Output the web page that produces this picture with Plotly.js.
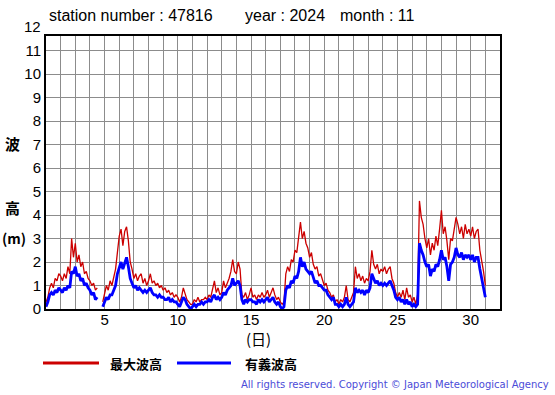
<!DOCTYPE html>
<html><head><meta charset="utf-8">
<script src="https://cdn.plot.ly/plotly-3.0.1.min.js"></script>
<style>html,body{margin:0;padding:0;background:#fff}#chart{width:555px;height:395px}</style>
</head><body><div id="chart"></div>
<script>
// Sampling: 8 readings per day (3-hourly), from day 1.0 to day 31.0
const samplesPerDay = 8;
const startDay = 1;

// 最大波高 (max wave height, m)
const maxWave = [
  0.3,0.5,0.9,1.1,0.9,1.3,1.2,1.5,
  1.4,1.2,1.5,1.3,1.8,1.5,3.0,2.2,
  2.8,2.0,2.3,1.8,2.0,1.5,1.6,1.3,
  1.2,1.0,1.1,0.8,0.9,null,null,0.3,
  0.6,1.0,0.8,1.2,1.0,1.3,1.7,2.4,
  3.1,3.4,2.7,3.3,3.5,2.9,2.0,1.7,
  1.3,1.5,1.2,1.4,1.5,1.1,1.3,1.0,
  1.2,1.5,1.1,1.2,1.0,1.1,0.9,1.0,
  0.8,0.9,0.7,0.8,0.6,0.7,0.5,0.6,
  0.5,0.3,0.5,0.9,0.6,0.4,0.3,0.2,
  0.2,0.4,0.3,0.5,0.3,0.4,0.4,0.5,
  0.4,0.6,0.5,0.8,1.2,0.7,0.9,0.6,
  0.7,1.2,0.9,1.1,1.3,1.6,2.1,1.6,
  1.5,2.0,1.7,0.6,0.5,0.7,0.4,0.6,
  0.9,0.5,0.6,0.4,0.6,0.5,0.7,0.5,
  0.6,0.8,0.5,0.7,0.9,0.6,0.4,0.5,
  0.3,0.2,0.3,1.5,1.8,1.6,2.1,2.0,
  2.5,2.4,3.0,3.7,3.0,3.3,2.8,2.6,
  2.2,2.4,1.9,1.7,1.8,1.4,1.5,1.2,
  1.0,1.1,0.8,0.7,0.5,0.6,0.3,0.4,
  0.2,0.4,0.3,0.5,1.0,0.4,0.3,0.5,
  0.7,1.8,1.3,1.5,1.2,1.4,1.1,1.3,
  1.2,1.6,2.5,1.9,1.7,1.9,1.5,1.7,
  1.6,1.8,1.5,1.7,1.8,1.3,1.1,0.7,
  0.5,0.7,0.5,0.8,0.4,0.9,0.5,0.6,
  0.3,0.5,0.2,0.6,4.6,3.9,3.6,3.0,
  2.6,3.0,2.3,2.8,2.5,3.1,2.7,3.4,
  4.2,3.2,3.5,2.9,2.1,3.0,2.9,3.4,
  3.9,3.6,3.2,3.5,3.0,3.6,3.2,3.4,
  3.1,3.5,3.0,3.3,3.4,2.5,2.1,1.6,
  1.0
];

// 有義波高 (significant wave height, m)
const sigWave = [
  0.1,0.3,0.6,0.7,0.6,0.8,0.7,0.9,
  0.8,0.7,0.9,0.8,1.0,0.9,1.6,1.5,
  1.8,1.4,1.5,1.2,1.3,1.0,1.1,0.9,
  0.8,0.6,0.7,0.4,0.5,null,null,0.1,
  0.3,0.5,0.4,0.6,0.6,0.8,1.0,1.5,
  1.8,2.0,1.7,2.0,2.2,1.8,1.3,1.1,
  0.9,1.0,0.8,0.9,0.8,0.7,0.8,0.7,
  0.8,0.9,0.7,0.6,0.6,0.5,0.6,0.5,
  0.5,0.4,0.4,0.5,0.3,0.4,0.3,0.3,
  0.2,0.1,0.3,0.5,0.4,0.2,0.1,0.0,
  0.1,0.2,0.1,0.2,0.2,0.3,0.2,0.3,
  0.3,0.4,0.3,0.5,0.6,0.4,0.5,0.4,
  0.5,0.7,0.6,0.8,0.9,1.0,1.3,1.0,
  1.1,1.2,1.0,0.4,0.2,0.4,0.3,0.4,
  0.4,0.3,0.3,0.2,0.4,0.3,0.4,0.3,
  0.4,0.5,0.3,0.4,0.5,0.3,0.2,0.3,
  0.1,0.0,0.1,0.8,1.0,0.9,1.2,1.1,
  1.4,1.3,1.6,2.2,1.8,2.0,1.7,1.6,
  1.5,1.6,1.3,1.1,1.2,1.0,1.0,0.9,
  0.8,0.8,0.6,0.5,0.4,0.5,0.2,0.2,
  0.1,0.2,0.1,0.2,0.5,0.2,0.1,0.2,
  0.3,0.9,0.7,0.8,0.7,0.8,0.6,0.8,
  0.7,0.9,1.5,1.3,1.1,1.2,1.0,1.1,
  1.0,1.1,1.0,1.1,1.2,1.0,0.8,0.5,
  0.4,0.5,0.3,0.4,0.2,0.4,0.2,0.3,
  0.1,0.2,0.1,0.2,2.8,2.5,2.3,2.0,
  1.8,1.9,1.4,1.7,1.6,1.9,1.8,2.1,
  2.5,2.1,2.2,1.8,1.2,1.9,2.0,2.2,
  2.6,2.3,2.2,2.4,2.1,2.3,2.2,2.3,
  2.1,2.3,2.0,2.2,2.2,1.7,1.3,0.9,
  0.5
];

const xTickVals = [5, 10, 15, 20, 25, 30];
const yTickVals = [0,1,2,3,4,5,6,7,8,9,10,11];
const topTickLabel = '12';
const seriesNames = ['最大波高', '有義波高'];
const titleParts = ['station number : 47816', 'year : 2024', 'month : 11'];

const days = maxWave.map((_, i) => startDay + i / samplesPerDay);

const data = [
  {x: days, y: maxWave, type: 'scatter', mode: 'lines', name: seriesNames[0],
   line: {color: '#cc0000', width: 1.3}, connectgaps: false, showlegend: false},
  {x: days, y: sigWave, type: 'scatter', mode: 'lines', name: seriesNames[1],
   line: {color: '#0000ff', width: 2.8}, connectgaps: false, showlegend: false}
];

const L = 46, R = 500, T = 36, B = 309, W = 555, H = 395;
const px = x => (x - L) / (R - L);
const py = y => (B - y) / (B - T);
const tickFont = {family: 'Liberation Sans, Arial, sans-serif', size: 15, color: '#000'};
const titleFont = {family: 'Liberation Sans, Arial, sans-serif', size: 16, color: '#000'};
const cjk = 'Noto Sans CJK JP, sans-serif';

const layout = {
  width: W, height: H,
  margin: {l: L, r: W - R, t: T, b: H - B, pad: 0},
  paper_bgcolor: '#fff', plot_bgcolor: '#fff',
  showlegend: false,
  xaxis: {
    range: [1, 32], tickvals: xTickVals, ticks: '', showgrid: true,
    gridcolor: '#8c8c8c', gridwidth: 1,
    minor: {dtick: 1, showgrid: true, gridcolor: '#8c8c8c', gridwidth: 1, ticks: ''},
    showline: true, mirror: true, linecolor: '#000', linewidth: 2,
    zeroline: false, tickfont: tickFont, ticklabelstandoff: -4
  },
  yaxis: {
    range: [0, 11.62], tickvals: yTickVals, ticks: '', showgrid: true,
    gridcolor: '#8c8c8c', gridwidth: 1,
    showline: true, mirror: true, linecolor: '#000', linewidth: 2,
    zeroline: false, tickfont: tickFont
  },
  annotations: [
    {xref: 'paper', yref: 'paper', x: 0, y: py(27), xanchor: 'right', yanchor: 'middle', xshift: -3,
     text: topTickLabel, showarrow: false, font: tickFont},
    {xref: 'paper', yref: 'paper', x: px(47), y: py(15), xanchor: 'left', yanchor: 'middle',
     text: titleParts[0], showarrow: false, font: titleFont},
    {xref: 'paper', yref: 'paper', x: px(243), y: py(15), xanchor: 'left', yanchor: 'middle',
     text: titleParts[1], showarrow: false, font: titleFont},
    {xref: 'paper', yref: 'paper', x: px(338), y: py(15), xanchor: 'left', yanchor: 'middle',
     text: titleParts[2], showarrow: false, font: titleFont},
    {xref: 'paper', yref: 'paper', x: px(12), y: py(143), xanchor: 'center', yanchor: 'middle',
     text: '<b>波</b>', showarrow: false, font: {family: cjk, size: 15, color: '#000'}},
    {xref: 'paper', yref: 'paper', x: px(12), y: py(207), xanchor: 'center', yanchor: 'middle',
     text: '<b>高</b>', showarrow: false, font: {family: cjk, size: 15, color: '#000'}},
    {xref: 'paper', yref: 'paper', x: px(14), y: py(238), xanchor: 'center', yanchor: 'middle',
     text: '<b>(m)</b>', showarrow: false, font: {family: cjk, size: 14, color: '#000'}},
    {xref: 'paper', yref: 'paper', x: px(258), y: py(338), xanchor: 'center', yanchor: 'middle',
     text: '(日)', showarrow: false, font: {family: cjk, size: 15, color: '#000'}},
    {xref: 'paper', yref: 'paper', x: px(108), y: py(363), xanchor: 'left', yanchor: 'middle',
     text: '<b>' + seriesNames[0] + '</b>', showarrow: false, font: {family: cjk, size: 13, color: '#000'}},
    {xref: 'paper', yref: 'paper', x: px(243), y: py(363), xanchor: 'left', yanchor: 'middle',
     text: '<b>' + seriesNames[1] + '</b>', showarrow: false, font: {family: cjk, size: 13, color: '#000'}},
    {xref: 'paper', yref: 'paper', x: px(551), y: py(384), xanchor: 'right', yanchor: 'middle',
     text: 'All rights reserved. Copyright © Japan Meteorological Agency', showarrow: false,
     font: {family: 'DejaVu Sans, sans-serif', size: 10, color: '#4b4bd8'}}
  ],
  shapes: [
    {type: 'line', xref: 'paper', yref: 'paper', x0: px(43), x1: px(99), y0: py(363), y1: py(363),
     line: {color: '#cc0000', width: 3}},
    {type: 'line', xref: 'paper', yref: 'paper', x0: px(177), x1: px(231), y0: py(363), y1: py(363),
     line: {color: '#0000ff', width: 3}}
  ]
};

Plotly.newPlot('chart', data, layout, {staticPlot: true, displayModeBar: false});
</script>
</body></html>
